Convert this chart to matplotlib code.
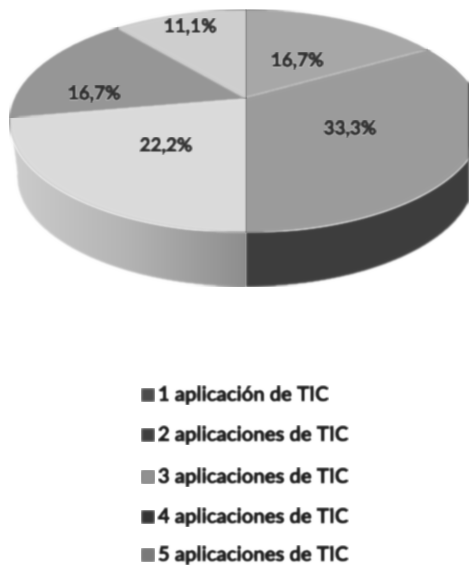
import numpy as np
import matplotlib
matplotlib.use("Agg")
import matplotlib.pyplot as plt
import matplotlib.patheffects as pe
from matplotlib.patches import Polygon

# slices clockwise from 12 o'clock
values = [16.7, 33.3, 22.2, 16.7, 11.1]
top_colors = ["#a8a8a8", "#9c9c9c", "#dcdcdc", "#969696", "#d0d0d0"]
legend_labels = ["1 aplicación de TIC", "2 aplicaciones de TIC", "3 aplicaciones de TIC",
                 "4 aplicaciones de TIC", "5 aplicaciones de TIC"]
legend_colors = ["#4a4a4a", "#3e3e3e", "#929292", "#333333", "#7a7a7a"]

# CONSTANTS
W, H = 469, 567
CX, CY = 246, 98
DEPTH = 55
label_xy = [(297, 61), (350, 129), (166, 146), (94, 94), (190, 27)]
legend_y = [395, 435, 477, 517, 555]


def blur(radius):
    def f(img, dpi):
        out = img.copy()
        kernel = np.exp(-0.5 * (np.arange(-4, 5) / radius) ** 2)
        kernel = kernel / kernel.sum()
        for axis in (0, 1):
            out = np.apply_along_axis(lambda m: np.convolve(m, kernel, mode="same"), axis, out)
        return out, 0, 0
    return f


def project(theta):
    # theta clockwise from top, perspective view of the disc
    u, v = np.sin(theta), np.cos(theta)
    s = 1 / (1 + 0.207 * v)
    return 231 * u * s, -106.2 * v * s


def rim(a0, a1, n=80):
    x, y = project(np.linspace(a0, a1, n))
    return x + CX, y + CY


def wall_poly(a0, a1):
    x, y = project(np.linspace(a0, a1, 80))
    top = np.column_stack([x + CX, y + CY])
    bottom = np.column_stack([x * 0.97 + CX, y * 1.0 + CY + DEPTH])
    return np.vstack([top, bottom[::-1]])


def fat_text(t, color):
    t.set_path_effects([pe.withStroke(linewidth=0.7, foreground=color)])
    t.set_agg_filter(blur(0.9))


fig = plt.figure(figsize=(W / 100, H / 100), dpi=100)
ax = fig.add_axes([0, 0, 1, 1])
ax.axis("off")

edges = np.radians(np.cumsum([0] + values) / 100 * 360)

# side walls, only the front half shows
grad = np.linspace(0, 1, 256).reshape(1, -1)
wall_cmap = matplotlib.colors.LinearSegmentedColormap.from_list("w", ["#cdcdcd", "#b4b4b4", "#8e8e8e"])
left = ax.imshow(grad, extent=[10, 246, H, 0], aspect="auto", cmap=wall_cmap, zorder=1)
clip = Polygon(wall_poly(edges[2], edges[3]), transform=ax.transData, fc="none", ec="none")
ax.add_patch(clip)
left.set_clip_path(clip)
left.set_agg_filter(blur(1.2))
ax.set_xlim(0, W)
ax.set_ylim(H, 0)

right = Polygon(wall_poly(edges[1], edges[2]), fc="#3d3d3d", ec="none", zorder=1)
right.set_agg_filter(blur(1.2))
ax.add_patch(right)

# top of the pie, the underlay hides seams between the blurred slices
x, y = rim(0, 2 * np.pi, 200)
under = Polygon(np.column_stack([x, y]), fc="#a4a4a4", ec="none", zorder=1.5)
under.set_agg_filter(blur(1.2))
ax.add_patch(under)
for i, c in enumerate(top_colors):
    x, y = rim(edges[i], edges[i + 1])
    pts = np.column_stack([np.r_[CX, x], np.r_[CY, y]])
    p = Polygon(pts, fc=c, ec=c, lw=0.6, zorder=2)
    p.set_agg_filter(blur(1.2))
    ax.add_patch(p)

for (lx, ly), v in zip(label_xy, values):
    t = ax.text(lx, ly, f"{v:.1f}%".replace(".", ","), ha="center", va="center", fontsize=13.6,
                family="Lato", fontweight="bold", color="#2e2e2e", zorder=3)
    fat_text(t, "#2e2e2e")

for y, lab, c in zip(legend_y, legend_labels, legend_colors):
    m = ax.scatter([148], [y], marker="s", s=100, color=c, linewidths=0, zorder=3)
    m.set_agg_filter(blur(1.1))
    t = ax.text(158, y, lab, ha="left", va="center", fontsize=14.6, family="Lato", fontweight="bold",
                color="#1c1c1c", zorder=3)
    fat_text(t, "#1c1c1c")

fig.savefig("out.png", dpi=100)
